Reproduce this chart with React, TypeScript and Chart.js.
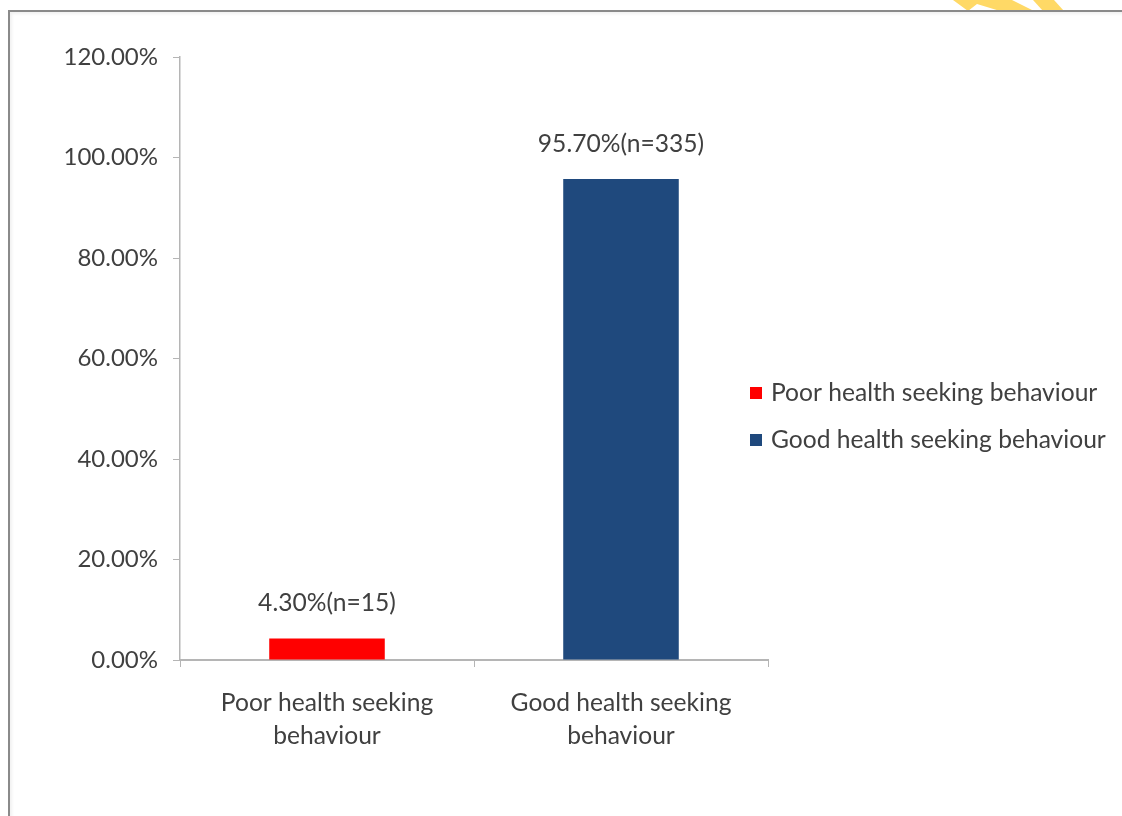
import React, { useEffect, useRef } from "react";
import { Chart, registerables } from "chart.js";

Chart.register(...registerables);

const categories: string[][] = [
  ["Poor health seeking", "behaviour"],
  ["Good health seeking", "behaviour"],
];
const legendLabels: string[] = ["Poor health seeking behaviour", "Good health seeking behaviour"];
const percentValues: number[] = [4.3, 95.7];
const counts: number[] = [15, 335];
const barColors: string[] = ["#FF0000", "#1F497D"];
const yMin = 0;
const yMax = 120;
const yStep = 20;

const FONT = "Lato";
const TEXT_SIZE = 24.6;
const TICK_SIZE = 24;
const TEXT_COLOR = "#404040";
const AXIS_COLOR = "#b5b5b5";

const watermarkPlugin = {
  id: "watermark",
  beforeDraw(chart: any) {
    const ctx = chart.ctx;
    ctx.save();
    ctx.fillStyle = "#FFD966";
    ctx.beginPath();
    ctx.moveTo(953, 0);
    ctx.lineTo(1012, 0);
    ctx.lineTo(1034, 11);
    ctx.lineTo(1000, 11);
    ctx.lineTo(977, 4);
    ctx.lineTo(968, 11);
    ctx.closePath();
    ctx.fill();
    ctx.beginPath();
    ctx.moveTo(1033, 0);
    ctx.lineTo(1054, 0);
    ctx.lineTo(1064, 11);
    ctx.lineTo(1043, 11);
    ctx.closePath();
    ctx.fill();
    ctx.restore();
  },
};

const valueLabelPlugin = {
  id: "valueLabels",
  afterDatasetsDraw(chart: any) {
    const ctx = chart.ctx;
    const meta = chart.getDatasetMeta(0);
    ctx.save();
    ctx.font = `${TEXT_SIZE}px ${FONT}`;
    ctx.fillStyle = TEXT_COLOR;
    ctx.textAlign = "center";
    ctx.textBaseline = "middle";
    meta.data.forEach((bar: any, i: number) => {
      const text = `${percentValues[i].toFixed(2)}%(n=${counts[i]})`;
      ctx.fillText(text, bar.x, bar.y - 35);
    });
    ctx.restore();
  },
};

const sideLegendPlugin = {
  id: "sideLegend",
  afterDraw(chart: any) {
    const ctx = chart.ctx;
    const x0 = chart.chartArea.right - 18;
    const gap = 47;
    const startY = chart.chartArea.bottom - 267;
    ctx.save();
    ctx.font = `${TEXT_SIZE}px ${FONT}`;
    ctx.textAlign = "left";
    ctx.textBaseline = "middle";
    legendLabels.forEach((lab, i) => {
      const y = startY + i * gap;
      ctx.fillStyle = barColors[i];
      ctx.fillRect(x0, y - 6, 12, 12);
      ctx.fillStyle = TEXT_COLOR;
      ctx.fillText(lab, x0 + 21, y);
    });
    ctx.restore();
  },
};

function App() {
  const canvasRef = useRef<HTMLCanvasElement | null>(null);

  useEffect(() => {
    if (!canvasRef.current) return;
    const chart = new Chart(canvasRef.current, {
      type: "bar",
      data: {
        labels: categories,
        datasets: [
          {
            data: percentValues,
            backgroundColor: barColors,
            borderWidth: 0,
            categoryPercentage: 1,
            barPercentage: 0.393,
          },
        ],
      },
      options: {
        animation: false,
        responsive: false,
        devicePixelRatio: 1,
        layout: { padding: { left: 0, right: 354, top: 57, bottom: 0 } },
        plugins: {
          legend: { display: false },
          tooltip: { enabled: false },
          title: { display: false },
        },
        scales: {
          y: {
            min: yMin,
            max: yMax,
            afterFit: (scale: any) => {
              scale.width = 180;
            },
            ticks: {
              stepSize: yStep,
              padding: 15,
              color: TEXT_COLOR,
              font: { family: FONT, size: TICK_SIZE },
              callback: (v: any) => `${Number(v).toFixed(2)}%`,
            },
            grid: {
              drawOnChartArea: false,
              tickLength: 7,
              color: AXIS_COLOR,
              tickColor: AXIS_COLOR,
            },
            border: { color: AXIS_COLOR, width: 1.5 },
          },
          x: {
            afterFit: (scale: any) => {
              scale.height = 156;
            },
            ticks: {
              padding: 20,
              color: TEXT_COLOR,
              font: { family: FONT, size: TEXT_SIZE, lineHeight: 33 / TEXT_SIZE },
              maxRotation: 0,
            },
            grid: {
              offset: true,
              drawOnChartArea: false,
              tickLength: 7,
              color: AXIS_COLOR,
              tickColor: AXIS_COLOR,
            },
            border: { color: AXIS_COLOR, width: 2 },
          },
        },
      },
      plugins: [watermarkPlugin, valueLabelPlugin, sideLegendPlugin],
    });
    return () => chart.destroy();
  }, []);

  return (
    <div
      style={{
        position: "fixed",
        left: 0,
        top: 0,
        width: 1122,
        height: 816,
        overflow: "hidden",
        background: "#ffffff",
      }}
    >
      <canvas ref={canvasRef} width={1122} height={816} style={{ position: "absolute", left: 0, top: 0 }} />
      <div
        style={{
          position: "absolute",
          left: 8,
          top: 10,
          width: 1300,
          height: 1000,
          borderLeft: "2px solid #8a8a8a",
          borderTop: "2px solid #8a8a8a",
          boxShadow: "inset 2px 2px 3px rgba(0,0,0,0.06)",
          pointerEvents: "none",
        }}
      />
    </div>
  );
}

export default App;
